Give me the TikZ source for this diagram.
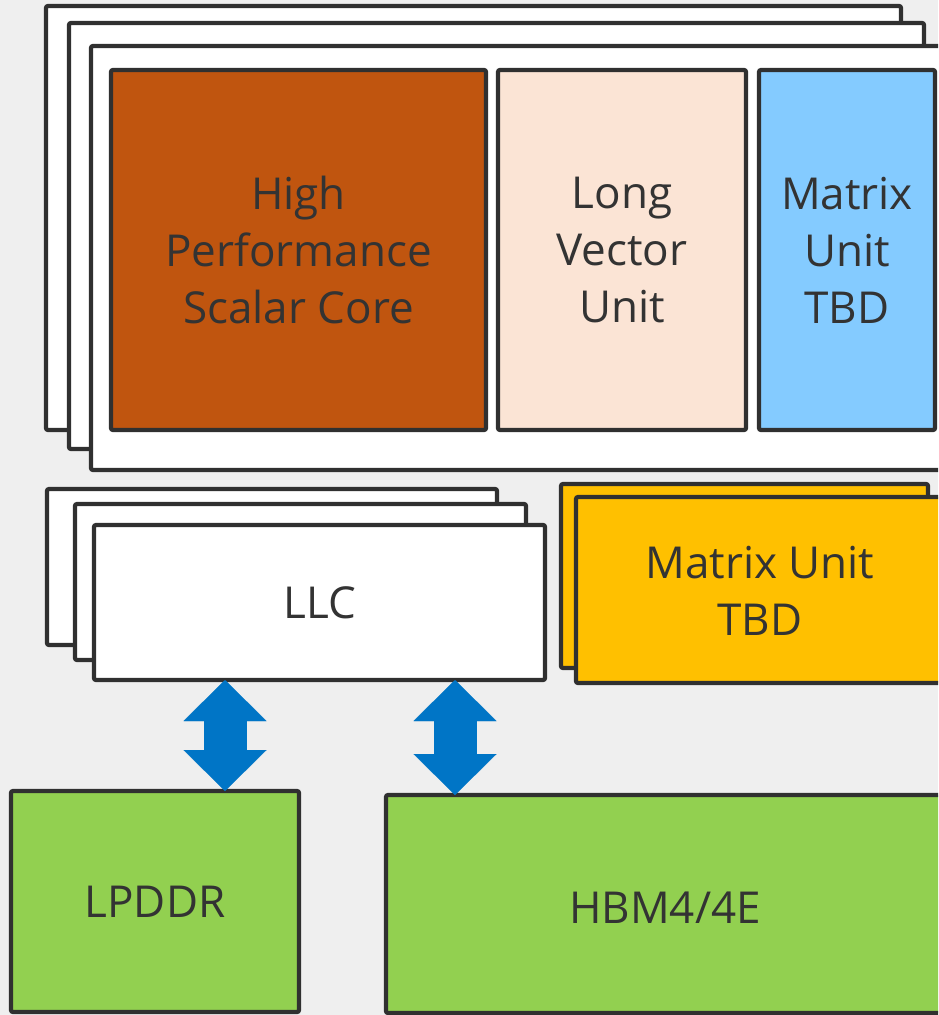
\documentclass[tikz,border=0pt]{standalone}
\usepackage{fontspec}
\setmainfont{Open Sans}
\usetikzlibrary{arrows.meta}
\definecolor{bgc}{HTML}{EFEFEF}
\definecolor{edge}{HTML}{303030}
\definecolor{txt}{HTML}{333333}
\definecolor{coreor}{HTML}{C0550F}
\definecolor{peach}{HTML}{FBE4D5}
\definecolor{skyb}{HTML}{84CBFF}
\definecolor{amber}{HTML}{FFC000}
\definecolor{leaf}{HTML}{92D050}
\definecolor{arrowb}{HTML}{0075C6}
\tikzset{
  box/.style={draw=edge, line width=4.2pt, rounded corners=2pt, anchor=north west,
    inner sep=0pt, outer sep=0pt, align=center, text=txt, font=\fontsize{44}{57}\selectfont},
  label text/.style={text=txt, font=\fontsize{44}{57}\selectfont, align=center},
  bigarrow/.style={arrowb, line width=43pt,
    {Triangle[length=41pt,width=83pt,line width=0.01pt]}-{Triangle[length=41pt,width=83pt,line width=0.01pt]}}
}
\begin{document}
\begin{tikzpicture}[x=1pt,y=-1pt]
\fill[bgc] (0,0) rectangle (938,1015);
\useasboundingbox (0,0) rectangle (938,1015);
\clip (0,0) rectangle (938,1015);
% core stack frames
\node[box, fill=white, minimum width=855, minimum height=424] (f1) at (46,6) {};
\node[box, fill=white, minimum width=855, minimum height=426] (f2) at (69,23) {};
\node[box, fill=white, minimum width=869, minimum height=424] (f3) at (91,46) {};
\node[box, fill=coreor, minimum width=375, minimum height=360] (core) at (111,70) {High\\Performance\\Scalar Core};
\node[box, fill=peach, minimum width=248, minimum height=360] (lvu) at (498,70) {Long\\Vector\\Unit};
\node[box, fill=skyb, minimum width=176, minimum height=360] (mtx) at (759,70) {Matrix\\Unit\\TBD};
% LLC stack
\node[box, fill=white, minimum width=450, minimum height=156] (llca) at (47,489) {};
\node[box, fill=white, minimum width=451, minimum height=156] (llcb) at (75,504) {};
\node[box, fill=white, minimum width=451, minimum height=155] (llc) at (94,525) {LLC};
% matrix unit stack
\node[box, fill=amber, minimum width=367, minimum height=184] (mua) at (561,484) {};
\node[box, fill=amber, minimum width=384, minimum height=186] (mu) at (576,497) {};
\node[label text] (mutext) at (760,591) {Matrix Unit\\TBD};
% memory
\node[box, fill=leaf, minimum width=288, minimum height=221] (lpddr) at (11,791) {LPDDR};
\node[box, fill=leaf, minimum width=574, minimum height=218] (hbm) at (386,795) {};
\node[label text] (hbmtext) at (665,908) {HBM4/4E};
% arrows
\coordinate (x1) at (225,0);
\coordinate (x2) at (455,0);
\draw[bigarrow] (x1 |- llc.south) -- (x1 |- lpddr.north);
\draw[bigarrow] (x2 |- llc.south) -- (x2 |- hbm.north);
\end{tikzpicture}
\end{document}
